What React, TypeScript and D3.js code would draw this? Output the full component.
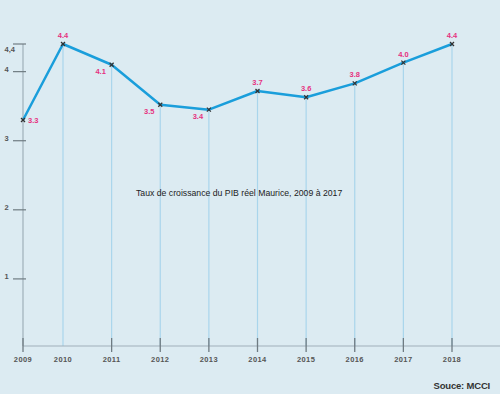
import React from "react";
import * as d3 from "d3";

const years = [2009, 2010, 2011, 2012, 2013, 2014, 2015, 2016, 2017, 2018];
// plotted positions
const growth = [3.3, 4.4, 4.1, 3.52, 3.45, 3.72, 3.63, 3.83, 4.13, 4.4];
const valueLabels = ["3.3", "4.4", "4.1", "3.5", "3.4", "3.7", "3.6", "3.8", "4.0", "4.4"];
const labelSide = ["right", "above", "belowLeft", "belowLeft", "belowLeft", "above", "above", "above", "above", "above"];
const yTicks = [1, 2, 3, 4, 4.4];
const yTickLabels = ["1", "2", "3", "4", "4,4"];
const darkTickYears = [2009, 2011, 2012, 2013, 2014, 2015, 2016, 2017, 2018];
const title = "Taux de croissance du PIB réel Maurice, 2009 à 2017";
const source = "Souce: MCCI";

const W = 500;
const H = 394;
const FONT = "'Liberation Sans', Arial, Helvetica, sans-serif";

export default function App() {
  const x = d3.scaleLinear().domain([2009, 2010, 2018]).range([23, 63, 452]);
  const y = d3.scaleLinear().domain([0, 4.4]).range([348, 44]);
  const axisY = 346;

  const line = d3
    .line<number>()
    .x((_, i) => x(years[i]))
    .y((d) => y(d));

  return (
    <svg
      width={W}
      height={H}
      style={{ position: "absolute", left: 0, top: 0, display: "block" }}
      fontFamily={FONT}
    >
      <rect x={0} y={0} width={W} height={H} fill="#dcebf2" />

      {/* vertical drop lines */}
      {years.map((yr, i) =>
        i === 0 ? null : (
          <line
            key={"g" + yr}
            x1={x(yr)}
            x2={x(yr)}
            y1={y(growth[i])}
            y2={axisY}
            stroke="#a9d5ec"
            strokeWidth={1.2}
          />
        )
      )}

      {/* x axis line */}
      <line x1={x(2009)} x2={W} y1={axisY} y2={axisY} stroke="#9fb0b9" strokeWidth={1.2} />
      {/* y axis line */}
      <line x1={x(2009)} x2={x(2009)} y1={y(4.4)} y2={axisY} stroke="#9fb0b9" strokeWidth={1.2} />

      {/* y ticks */}
      {yTicks.map((t, i) => (
        <g key={"yt" + t}>
          <line x1={13} x2={26} y1={y(t)} y2={y(t)} stroke="#6f7b82" strokeWidth={1.2} />
          <text
            x={4.5}
            y={y(t) + (t === 4.4 ? 7.5 : 0.5)}
            fontSize={7.5}
            fontWeight="bold"
            fill="#555"
          >
            {yTickLabels[i]}
          </text>
        </g>
      ))}

      {/* x ticks */}
      {darkTickYears.map((yr) => (
        <line
          key={"xt" + yr}
          x1={x(yr)}
          x2={x(yr)}
          y1={axisY - 8}
          y2={axisY + 6}
          stroke="#6f7b82"
          strokeWidth={1.3}
        />
      ))}
      {years.map((yr) => (
        <text
          key={"xl" + yr}
          x={x(yr)}
          y={362}
          fontSize={7.5}
          fontWeight="bold"
          fill="#555"
          textAnchor="middle"
          letterSpacing={0.4}
        >
          {yr}
        </text>
      ))}

      {/* line */}
      <path d={line(growth) || ""} fill="none" stroke="#1a9edb" strokeWidth={2.5} strokeLinejoin="round" />

      {/* markers */}
      {growth.map((v, i) => {
        const cx = x(years[i]);
        const cy = y(v);
        const s = 2;
        return (
          <g key={"m" + i} stroke="#333" strokeWidth={1.3}>
            <line x1={cx - s} y1={cy - s} x2={cx + s} y2={cy + s} />
            <line x1={cx - s} y1={cy + s} x2={cx + s} y2={cy - s} />
          </g>
        );
      })}

      {/* value labels */}
      {growth.map((v, i) => {
        const cx = x(years[i]);
        const cy = y(v);
        const side = labelSide[i];
        let lx = cx;
        let ly = cy - 6;
        let anchor: "start" | "middle" | "end" = "middle";
        if (side === "right") {
          lx = cx + 5;
          ly = cy + 3;
          anchor = "start";
        } else if (side === "belowLeft") {
          lx = cx - 11;
          ly = cy + 9.5;
          anchor = "middle";
        }
        return (
          <text
            key={"vl" + i}
            x={lx}
            y={ly}
            fontSize={7.5}
            fontWeight="bold"
            fill="#e6317f"
            textAnchor={anchor}
          >
            {valueLabels[i]}
          </text>
        );
      })}

      {/* title */}
      <text x={136} y={196} fontSize={8.7} fill="#222">
        {title}
      </text>

      {/* source */}
      <text x={490} y={389} fontSize={9.5} fontWeight="bold" fill="#333" textAnchor="end" letterSpacing={-0.2}>
        {source}
      </text>
    </svg>
  );
}
